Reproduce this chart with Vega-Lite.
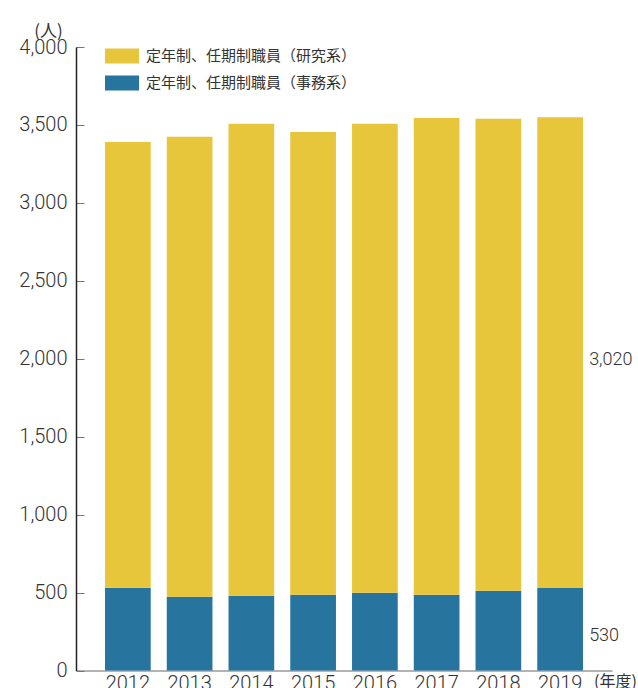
{
  "$schema": "https://vega.github.io/schema/vega-lite/v6.json",
  "width": 536,
  "height": 623.6,
  "autosize": {"type": "none"},
  "padding": {"left": 76, "top": 47, "right": 26, "bottom": 17.4},
  "background": "#ffffff",
  "config": {
    "view": {"stroke": null},
    "axis": {"grid": false, "labelFont": "Roboto", "labelFontWeight": 300, "labelColor": "#333333", "labelFontSize": 20}
  },
  "data": {
    "values": [
      {"year": "2012", "type": "定年制、任期制職員（事務系）", "value": 531},
      {"year": "2012", "type": "定年制、任期制職員（研究系）", "value": 2860},
      {"year": "2013", "type": "定年制、任期制職員（事務系）", "value": 474},
      {"year": "2013", "type": "定年制、任期制職員（研究系）", "value": 2950},
      {"year": "2014", "type": "定年制、任期制職員（事務系）", "value": 480},
      {"year": "2014", "type": "定年制、任期制職員（研究系）", "value": 3027},
      {"year": "2015", "type": "定年制、任期制職員（事務系）", "value": 487},
      {"year": "2015", "type": "定年制、任期制職員（研究系）", "value": 2968},
      {"year": "2016", "type": "定年制、任期制職員（事務系）", "value": 499},
      {"year": "2016", "type": "定年制、任期制職員（研究系）", "value": 3008},
      {"year": "2017", "type": "定年制、任期制職員（事務系）", "value": 487},
      {"year": "2017", "type": "定年制、任期制職員（研究系）", "value": 3058},
      {"year": "2018", "type": "定年制、任期制職員（事務系）", "value": 512},
      {"year": "2018", "type": "定年制、任期制職員（研究系）", "value": 3027},
      {"year": "2019", "type": "定年制、任期制職員（事務系）", "value": 530},
      {"year": "2019", "type": "定年制、任期制職員（研究系）", "value": 3020}
    ]
  },
  "encoding": {
    "x": {
      "field": "year", "type": "nominal",
      "scale": {"paddingInner": 0.26, "paddingOuter": 0.47},
      "axis": {
        "labelAngle": 0, "ticks": false, "labelPadding": 3,
        "domainColor": "#9a9a9a", "domainWidth": 1.5,
        "title": "(年度)", "titleFont": "Noto Sans CJK JP", "titleFontWeight": "normal",
        "titleFontSize": 16, "titleColor": "#333333",
        "titleX": 539, "titleY": 11, "titleAlign": "center", "titleBaseline": "middle", "titleAnchor": null
      }
    }
  },
  "layer": [
    {
      "mark": {"type": "bar"},
      "encoding": {
        "y": {
          "field": "value", "type": "quantitative", "stack": "zero",
          "scale": {"domain": [0, 4000], "nice": false},
          "axis": {
            "values": [0, 500, 1000, 1500, 2000, 2500, 3000, 3500, 4000],
            "format": ",d", "tickSize": -8, "tickColor": "#777777", "labelPadding": 17,
            "domainColor": "#222222", "domainWidth": 1.5,
            "title": "(人)", "titleAngle": 0, "titleFont": "Noto Sans CJK JP", "titleFontWeight": "normal",
            "titleFontSize": 17, "titleColor": "#333333",
            "titleX": -28, "titleY": -16, "titleAlign": "center", "titleBaseline": "middle", "titleAnchor": null
          }
        },
        "color": {
          "field": "type", "type": "nominal",
          "scale": {
            "domain": ["定年制、任期制職員（研究系）", "定年制、任期制職員（事務系）"],
            "range": ["#E8C63C", "#27749F"]
          },
          "legend": {
            "orient": "none", "legendX": 29, "legendY": -8, "title": null,
            "symbolType": "M-1,-0.441H1V0.441H-1Z", "symbolSize": 1156, "symbolStrokeWidth": 0,
            "labelFont": "Noto Sans CJK JP", "labelFontSize": 15, "labelColor": "#333333", "labelLimit": 0,
            "labelOffset": 7, "rowPadding": 2, "padding": 0
          }
        },
        "order": {"field": "type", "sort": "ascending"}
      }
    },
    {
      "transform": [
        {"stack": "value", "groupby": ["year"], "sort": [{"field": "type", "order": "ascending"}], "as": ["v0", "v1"]},
        {"calculate": "(datum.v0 + datum.v1) / 2", "as": "mid"},
        {"filter": "datum.year == '2019'"}
      ],
      "mark": {"type": "text", "align": "left", "baseline": "middle", "dx": 29, "dy": 7, "font": "Roboto", "fontWeight": 300, "fontSize": 18, "color": "#333333"},
      "encoding": {
        "y": {"field": "mid", "type": "quantitative"},
        "text": {"field": "value", "type": "quantitative", "format": ",d"}
      }
    }
  ]
}
